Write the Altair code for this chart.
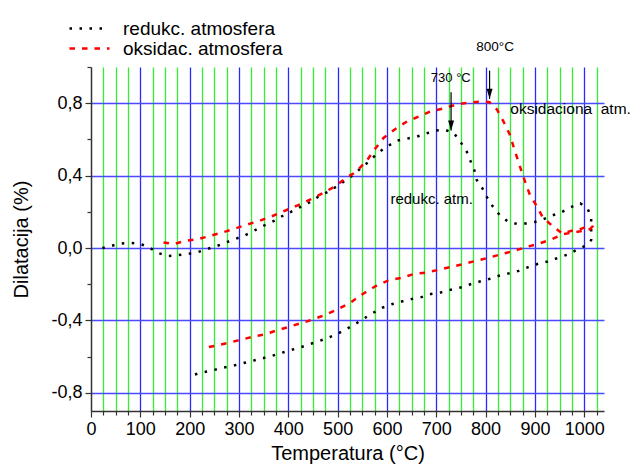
import altair as alt
import pandas as pd

# ---- data ----
series_names = ["redukc. atmosfera", "oksidac. atmosfera"]

# reducing atmosphere (black dotted): heating then cooling
blk_x = [23, 40, 59, 78, 97, 116, 135, 154, 173, 193, 213, 232, 251, 272, 290, 309, 328, 349,
         372, 390, 410, 428, 447, 461, 480, 498, 515, 532, 549, 566, 580, 600, 620, 642, 661,
         681, 700, 718, 736, 750, 762, 769, 777, 782, 793, 803, 814, 828, 845, 864, 882, 899,
         914, 934, 953, 972, 992, 1007, 1014,
         1014, 1003, 984, 965, 946, 926, 905, 885, 867, 847, 827, 807, 788, 768, 749, 728, 708,
         689, 670, 649, 630, 610, 590, 572, 551, 532, 513, 495, 474, 454, 443, 423, 404, 384,
         365, 345, 324, 305, 286, 266, 247, 227, 207]
blk_y = [0.0, 0.011, 0.025, 0.029, 0.025, 0.007, -0.026, -0.044, -0.041, -0.033, -0.026, -0.008,
         0.007, 0.029, 0.048, 0.066, 0.092, 0.122, 0.151, 0.18, 0.206, 0.232, 0.258, 0.284, 0.31,
         0.34, 0.372, 0.405, 0.446, 0.483, 0.523, 0.56, 0.593, 0.605, 0.616, 0.634, 0.649, 0.653,
         0.634, 0.582, 0.531, 0.483, 0.431, 0.376, 0.332, 0.28, 0.232, 0.184, 0.147, 0.133, 0.136,
         0.144, 0.155, 0.179, 0.197, 0.225, 0.247, 0.216, 0.169,
         0.044, 0.014, -0.011, -0.037, -0.055, -0.074, -0.088, -0.107, -0.126, -0.14, -0.153,
         -0.171, -0.185, -0.201, -0.218, -0.231, -0.246, -0.254, -0.271, -0.282, -0.295, -0.31,
         -0.33, -0.358, -0.393, -0.426, -0.454, -0.48, -0.502, -0.522, -0.531, -0.55, -0.564,
         -0.581, -0.597, -0.611, -0.625, -0.638, -0.651, -0.662, -0.675, -0.686, -0.701]

# oxidising atmosphere (red dashed): heating then cooling
red_x = [147, 167, 192, 215, 240, 265, 291, 316, 342, 368, 393, 419, 445, 472, 496, 518, 536,
         558, 576, 593, 617, 641, 664, 688, 715, 742, 769, 796, 808, 823, 836, 849, 857, 867,
         877, 889, 903, 916, 935, 955, 975, 988, 1009, 1016,
         1012, 998, 978, 957, 935, 909, 884, 858, 833, 808, 781, 755, 732, 705, 680, 654, 631,
         601, 576, 551, 526, 499, 475, 449, 423, 397, 378, 353, 327, 303, 276, 251, 226]
red_y = [0.031, 0.022, 0.04, 0.048, 0.066, 0.085, 0.107, 0.129, 0.151, 0.177, 0.206, 0.236,
         0.269, 0.306, 0.343, 0.39, 0.418, 0.479, 0.548, 0.608, 0.658, 0.7, 0.726, 0.754, 0.772,
         0.793, 0.805, 0.809, 0.805, 0.765, 0.7, 0.627, 0.556, 0.473, 0.39, 0.299, 0.234, 0.169,
         0.123, 0.081, 0.096, 0.1, 0.123, 0.118,
         0.105, 0.095, 0.086, 0.077, 0.05, 0.025, 0.007, -0.015, -0.033, -0.052, -0.07, -0.088,
         -0.103, -0.12, -0.135, -0.144, -0.163, -0.181, -0.212, -0.254, -0.301, -0.34, -0.369,
         -0.395, -0.417, -0.439, -0.454, -0.476, -0.491, -0.507, -0.525, -0.54, -0.553]

# annotations
ann_text = ["800°C", "730 °C", "oksidaciona\u00a0 atm.", "redukc. atm."]
ann_x = [781, 689, 850, 607]
ann_y = [1.108, 0.942, 0.77, 0.273]
ann_size = [13.5, 13, 15.5, 15]

arrow_x = [730, 808]
arrow_top = [0.861, 0.98]
arrow_tip = [0.649, 0.824]

x_ticks = list(range(0, 1026, 25))
y_ticks = [-0.8, -0.6, -0.4, -0.2, 0.0, 0.2, 0.4, 0.6, 0.8, 1.0]

FONT = "Liberation Sans"

# ---- tables ----
rows = []
for i, (x, y) in enumerate(zip(blk_x, blk_y)):
    rows.append({"serija": series_names[0], "T": x, "D": y, "i": i})
for i, (x, y) in enumerate(zip(red_x, red_y)):
    rows.append({"serija": series_names[1], "T": x, "D": y, "i": i})
df = pd.DataFrame(rows)

ann_df = pd.DataFrame({"T": ann_x, "D": ann_y, "lab": ann_text, "fs": ann_size})
arr_df = pd.DataFrame({"T": arrow_x, "D": arrow_top, "D2": arrow_tip})
tip_df = pd.DataFrame({"T": arrow_x, "D": arrow_tip})

x_scale = alt.Scale(domain=[0, 1040], nice=False, zero=False)
y_scale = alt.Scale(domain=[-0.9, 1.0], nice=False, zero=False)

x_axis = alt.Axis(
    values=x_ticks, format="d",
    labelExpr="datum.value % 100 === 0 ? datum.label : ''",
    labelOverlap=False, labelFlush=False,
    title="Temperatura (°C)", titleFontSize=20, titlePadding=5,
    labelFontSize=18, labelPadding=3,
    grid=True,
    gridColor={"condition": {"test": "datum.value % 100 === 0", "value": "#2a2aff"}, "value": "#33ee33"},
    gridOpacity={"condition": {"test": "datum.value === 0", "value": 0}, "value": 1},
    gridWidth=1.3,
    tickSize={"condition": {"test": "datum.value % 100 === 0", "value": 6}, "value": 4},
)
y_axis = alt.Axis(
    values=y_ticks,
    labelExpr="abs(round(datum.value*10)) % 4 === 0 ? replace(replace(format(datum.value, '.1f'), '.', ','), '\u2212', '-') : ''",
    labelOverlap=False, labelFlush=False,
    title="Dilatacija (%)", titleFontSize=20, titlePadding=19,
    labelFontSize=18, labelPadding=3,
    grid=True,
    gridColor="#4a4aff",
    gridOpacity={"condition": {"test": "abs(round(datum.value*10)) % 4 === 0", "value": 1}, "value": 0},
    gridWidth=1.5,
    tickSize={"condition": {"test": "abs(round(datum.value*10)) % 4 === 0", "value": 6}, "value": 4},
)

X = alt.X("T:Q", scale=x_scale, axis=x_axis)
Y = alt.Y("D:Q", scale=y_scale, axis=y_axis)

# long horizontal stroke as legend symbol (path scaled by sqrt(size)/2)
leg = alt.Legend(title=None, orient="none", legendX=-11, legendY=-48,
                 symbolType="M-2.5,0 L2.5,0", symbolSize=256, symbolStrokeWidth=2.5,
                 labelFontSize=19, labelFont=FONT, labelOffset=24,
                 rowPadding=0, padding=0)

lines = alt.Chart(df).mark_line(strokeWidth=2.5).encode(
    x=X, y=Y,
    order="i:Q",
    color=alt.Color("serija:N", scale=alt.Scale(domain=series_names, range=["black", "#ff0000"]),
                    legend=leg),
    strokeDash=alt.StrokeDash("serija:N", scale=alt.Scale(domain=series_names,
                                                          range=[[2.5, 7.5], [5.5, 7]]),
                              legend=leg),
)

texts = alt.Chart(ann_df).mark_text(align="left", baseline="middle", font=FONT, color="black").encode(
    x=X, y=Y, text="lab:N", size=alt.Size("fs:Q", scale=None, legend=None)
)

shafts = alt.Chart(arr_df).mark_rule(color="black", strokeWidth=1.2).encode(
    x=X, y=Y, y2="D2:Q"
)

heads = alt.Chart(tip_df).mark_point(
    shape="M-0.6,-2 L0.6,-2 L0,0 Z", filled=True, size=100, color="black", opacity=1
).encode(x=X, y=Y)

chart = alt.layer(lines, shafts, heads, texts).properties(
    width=513, height=344,
    autosize=alt.AutoSizeParams(type="none"),
    padding={"left": 83, "top": 59, "right": 28, "bottom": 54},
).configure_view(strokeWidth=0).configure_axis(
    domainColor="#333333", domainWidth=1.5, tickColor="#333333", tickWidth=1.2,
    labelFont=FONT, titleFont=FONT, labelColor="black", titleColor="black",
    titleFontWeight="normal",
)

chart.save("out.html", embed_options={"renderer": "svg", "actions": False})
